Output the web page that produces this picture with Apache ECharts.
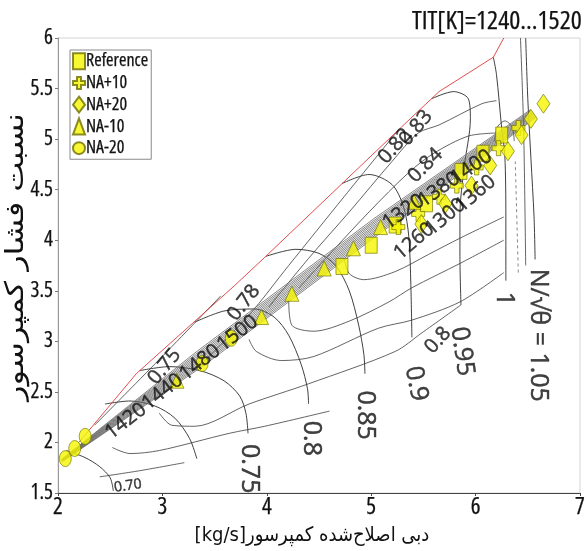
<!DOCTYPE html>
<html>
<head>
<meta charset="utf-8">
<script src="https://cdn.jsdelivr.net/npm/echarts@6/dist/echarts.min.js"></script>
<style>
  html, body { margin: 0; padding: 0; background: #fff; }
  #chart { width: 588px; height: 551px; }
</style>
</head>
<body>
<div id="chart"></div>
<script>
// ---- axis ticks ----
const xTicks = [2, 3, 4, 5, 6, 7];
const yTicks = [1.5, 2, 2.5, 3, 3.5, 4, 4.5, 5, 5.5, 6];

// ---- surge line [mass flow, pressure ratio] ----
const surgeLine = [[2.2,2.0],[2.75,2.68],[3.69,3.55],[3.99,3.84],[5.26,5.09],[5.65,5.47],[6.17,5.81],[6.27,6.0]];

// ---- corrected speed lines ----
const speed070 = [[2.08,1.92],[2.26,1.85],[2.40,1.76],[2.50,1.65],[2.53,1.52]];
const speed072 = [[2.45,2.38],[2.69,2.41],[2.93,2.36],[3.12,2.24],[3.26,2.04],[3.33,1.84]];
const speed075 = [[2.78,2.71],[3.07,2.75],[3.36,2.71],[3.59,2.61],[3.74,2.46],[3.80,2.29],[3.82,2.09]];
const speed080 = [[3.31,3.19],[3.59,3.30],[3.88,3.32],[4.07,3.24],[4.21,3.06],[4.33,2.77],[4.39,2.53],[4.40,2.38]];
const speed085 = [[3.99,3.84],[4.28,3.91],[4.50,3.87],[4.66,3.75],[4.79,3.50],[4.88,3.16],[4.93,2.87],[4.94,2.68]];
const speed090 = [[4.72,4.56],[4.98,4.65],[5.20,4.55],[5.31,4.33],[5.36,4.04],[5.38,3.55],[5.39,3.04]];
const speed095 = [[5.58,5.40],[5.79,5.47],[5.93,5.40],[5.95,5.20],[5.89,4.72],[5.85,4.26],[5.85,3.84],[5.86,3.36]];
const speed100 = [[6.17,5.81],[6.20,5.64],[6.25,5.11],[6.28,4.84],[6.29,4.23],[6.29,3.60]];
const speed105 = [[6.48,6.00],[6.50,5.40],[6.53,4.81],[6.56,4.23],[6.57,3.81]];

// ---- efficiency contours ----
const effUpper075 = [[2.35,2.17],[2.97,2.82],[3.56,3.45]];
const effUpper078 = [[3.35,2.75],[3.83,3.26],[4.21,3.75],[4.74,4.43],[5.26,5.09]];
const effUpper083 = [[4.02,3.34],[4.40,3.82],[4.79,4.28],[5.20,4.78],[5.45,5.06],[5.65,5.14],[6.06,5.35],[6.20,5.38]];
const effUpper084 = [[4.31,3.53],[4.60,3.86],[4.98,4.28],[5.36,4.67],[5.60,4.86],[5.93,5.03],[6.19,5.06]];
const effLower1 = [[4.74,3.82],[4.79,3.67],[4.93,3.61],[5.23,3.69],[5.55,3.86],[5.85,4.02],[6.27,4.23]];
const effLower2 = [[4.21,3.40],[4.24,3.16],[4.45,3.10],[4.79,3.20],[5.17,3.39],[5.39,3.53],[5.85,3.77],[6.27,4.00]];
const effLower3 = [[3.83,3.02],[3.90,2.90],[4.14,2.81],[4.45,2.85],[5.07,3.13],[5.39,3.21],[5.85,3.39],[6.27,3.68]];
const effLower4 = [[2.97,2.29],[3.09,2.17],[3.31,2.16],[3.83,2.38],[4.40,2.58],[5.23,2.90],[5.48,3.08],[5.86,3.36]];
const effLower5 = [[2.52,1.95],[2.69,1.89],[2.97,1.92],[3.64,2.09],[3.98,2.16],[4.60,2.31]];
const effLower6 = [[2.40,1.66],[2.78,1.72],[3.21,1.80]];
const effRight = [[6.43,6.0],[6.46,5.11],[6.48,3.75]];
const effRightDashed = [[6.38,4.78],[6.41,3.65]];
const effIsland = [[6.18,4.98],[6.21,5.12],[6.28,5.18],[6.35,5.12],[6.37,4.98]];

// ---- operating lines, TIT = 1240 ... 1520 K ----
const opLine01 = [[2.032,1.830],[3.310,2.884],[5.028,4.215],[6.525,5.290]];
const opLine02 = [[2.033,1.828],[3.318,2.872],[5.037,4.203],[6.530,5.282]];
const opLine03 = [[2.034,1.827],[3.326,2.861],[5.044,4.192],[6.535,5.274]];
const opLine04 = [[2.035,1.825],[3.334,2.850],[5.052,4.181],[6.540,5.268]];
const opLine05 = [[2.036,1.824],[3.342,2.839],[5.061,4.170],[6.545,5.261]];
const opLine06 = [[2.037,1.822],[3.350,2.828],[5.068,4.159],[6.549,5.255]];
const opLine07 = [[2.038,1.821],[3.358,2.817],[5.076,4.148],[6.554,5.249]];
const opLine08 = [[2.039,1.820],[3.366,2.806],[5.084,4.137],[6.559,5.242]];
const opLine09 = [[2.041,1.817],[3.374,2.795],[5.092,4.126],[6.564,5.235]];
const opLine10 = [[2.042,1.815],[3.382,2.784],[5.100,4.115],[6.569,5.228]];
const opLine11 = [[2.043,1.814],[3.390,2.773],[5.108,4.104],[6.574,5.221]];
const opLine12 = [[2.044,1.813],[3.398,2.762],[5.116,4.093],[6.579,5.214]];

// ---- operating points per case ----
const reference = [[4.72,3.74],[5.00,3.95],[5.23,4.15],[5.53,4.36],[5.86,4.68],[6.07,4.86],[6.25,5.04]];
const naPlus10 = [[5.26,4.13],[5.45,4.26],[5.65,4.43],[5.82,4.54],[6.01,4.72],[6.22,4.91],[6.41,5.11]];
const naPlus20 = [[5.48,4.16],[5.71,4.36],[5.96,4.54],[6.14,4.74],[6.31,4.88],[6.44,5.04],[6.53,5.20],[6.65,5.35]];
const naMinus10 = [[3.14,2.61],[3.95,3.24],[4.24,3.47],[4.55,3.72],[4.83,3.92],[5.09,4.13],[5.41,4.38]];
const naMinus20 = [[2.07,1.84],[2.16,1.94],[2.26,2.06],[3.38,2.78],[3.66,3.03]];

// ---- annotations ----
const speedLabels = ['0.75', '0.8', '0.85', '0.9', '0.95', '1', 'N/√θ = 1.05'];
const speedLabelAt = [[3.83,1.74],[4.42,2.04],[4.94,2.27],[5.43,2.58],[5.87,2.90],[6.27,3.42],[6.60,3.06]];
const effLabels = ['0.75', '0.78', '0.82', '0.83', '0.84', '0.8', '0.70'];
const effLabelAt = [[3.02,2.75],[3.78,3.38],[5.23,4.93],[5.43,5.11],[5.52,4.74],[5.64,3.01],[2.67,1.57]];
const titLabels = ['1420', '1440', '1480', '1500', '1320', '1380', '1400', '1260', '1300', '1360'];
const titLabelAt = [[2.65,2.21],[3.00,2.50],[3.36,2.79],[3.72,3.08],[5.31,4.28],[5.65,4.50],[5.96,4.72],[5.41,3.99],[5.71,4.23],[6.00,4.46]];

const xAxisTitle = '[kg/s]دبی اصلاح‌شده کمپرسور';
const yAxisTitle = 'نسبت فشار کمپرسور';

// ---- styling ----
const OPEN = "'Open Sans', 'DejaVu Sans', sans-serif";
const COND_W = 'condensed';
const INK = '#111';
const heavy = { textBorderColor: INK, textBorderWidth: 0.45 };
const medium = { textBorderColor: INK, textBorderWidth: 0.25 };
const speedRot = [-90, -90, -90, -78, -82, -90, -90];
const effRot = [51, 52, 48, 50, 45, 48, 8];
const effSize = [20, 20, 20, 20, 20, 20, 14];
const titRot = [38, 38, 38, 38, 35, 35, 35, 40, 40, 40];

function curve(data, color, width, extra) {
  return Object.assign({
    type: 'line', data: data, symbol: 'none', smooth: 0.3, silent: true,
    lineStyle: { color: color, width: width }, z: 2, clip: true
  }, extra || {});
}

function labelSeries(texts, pos, rot, sizes) {
  return {
    type: 'scatter', silent: true, symbolSize: 1, z: 10,
    itemStyle: { color: 'rgba(0,0,0,0)' },
    data: texts.map((t, i) => ({
      value: pos[i],
      label: Object.assign({
        show: true, position: 'inside', formatter: t, rotate: rot[i],
        fontSize: Array.isArray(sizes) ? sizes[i] : sizes,
        fontFamily: OPEN, color: INK
      }, heavy)
    }))
  };
}

const markerStyle = { color: '#f5f500', borderColor: '#6e6e00', borderWidth: 0.8 };
const crossPath = 'path://M4,0H8V4H12V8H8V12H4V8H0V4H4Z';

const speedCurves = [speed070, speed072, speed075, speed080, speed085, speed090, speed095, speed100, speed105];
const effCurves = [effUpper075, effUpper078, effUpper083, effUpper084, effLower1, effLower2, effLower3, effLower4, effLower5, effLower6, effRight, effIsland];
const opLines = [opLine01, opLine02, opLine03, opLine04, opLine05, opLine06, opLine07, opLine08, opLine09, opLine10, opLine11, opLine12];

const series = [];
speedCurves.forEach(d => series.push(curve(d, '#2a2a2a', 0.9)));
effCurves.forEach(d => series.push(curve(d, '#3c3c3c', 0.8)));
series.push(curve(effRightDashed, '#666', 0.8, { lineStyle: { color: '#666', width: 0.8, type: [3, 3] } }));
series.push(curve(surgeLine, '#e03a3a', 0.9, { smooth: false, z: 3 }));
opLines.forEach(d => series.push(curve(d, '#666666', 0.8, { smooth: false, z: 4 })));

series.push({ name: 'Reference', type: 'scatter', data: reference, symbol: 'rect', symbolSize: [12, 16], itemStyle: markerStyle, z: 6 });
series.push({ name: 'NA+10', type: 'scatter', data: naPlus10, symbol: crossPath, symbolSize: [13, 15], itemStyle: markerStyle, z: 6 });
series.push({ name: 'NA+20', type: 'scatter', data: naPlus20, symbol: 'diamond', symbolSize: [13, 19], itemStyle: markerStyle, z: 6 });
series.push({ name: 'NA-10', type: 'scatter', data: naMinus10, symbol: 'triangle', symbolSize: [14, 15], itemStyle: markerStyle, z: 6 });
series.push({ name: 'NA-20', type: 'scatter', data: naMinus20, symbol: 'circle', symbolSize: [12, 16], itemStyle: markerStyle, z: 6 });

series.push(labelSeries(speedLabels, speedLabelAt, speedRot, 25));
series.push(labelSeries(effLabels, effLabelAt, effRot, effSize));
series.push(labelSeries(titLabels, titLabelAt, titRot, 20));

const chart = echarts.init(document.getElementById('chart'), null, { renderer: 'canvas' });
chart.setOption({
  animation: false,
  backgroundColor: '#ffffff',
  title: {
    text: 'TIT[K]=1240...1520', right: 1, top: 4,
    textStyle: Object.assign({ fontFamily: OPEN, fontSize: 26, fontWeight: COND_W, color: INK }, medium)
  },
  graphic: [{
    type: 'text', x: 16, y: 257, rotation: Math.PI / 2, scaleY: 0.8, silent: true,
    style: {
      text: yAxisTitle, font: '32px "DejaVu Sans"', fill: INK,
      align: 'center', verticalAlign: 'middle', textAlign: 'center', textVerticalAlign: 'middle'
    }
  }],
  legend: {
    data: ['Reference', 'NA+10', 'NA+20', 'NA-10', 'NA-20'],
    orient: 'vertical', left: 70, top: 50,
    backgroundColor: '#fff', borderColor: '#8a8a8a', borderWidth: 1,
    padding: [2, 3, 2, 2], itemGap: 3.5, itemWidth: 12, itemHeight: 16,
    textStyle: Object.assign({ fontFamily: OPEN, fontWeight: COND_W, fontSize: 18, color: INK, padding: [0, 0, 0, -4] }, medium)
  },
  grid: { left: 58, right: 5, top: 38, bottom: 50, show: true, borderColor: '#d4d4d4', borderWidth: 1 },
  xAxis: {
    type: 'value', min: xTicks[0], max: xTicks[xTicks.length - 1], interval: 1,
    name: xAxisTitle, nameLocation: 'middle', nameGap: 33,
    nameTextStyle: { fontFamily: "'DejaVu Sans'", fontWeight: 'condensed', fontSize: 20, color: INK, padding: [0, 14, 0, 0] },
    axisLine: { lineStyle: { color: '#444', width: 1 } },
    axisTick: { show: true, length: 3, lineStyle: { color: '#444' } },
    axisLabel: Object.assign({ fontFamily: OPEN, fontWeight: COND_W, fontSize: 23, color: INK, margin: 3 }, medium),
    splitLine: { show: false }
  },
  yAxis: {
    type: 'value', min: yTicks[0], max: yTicks[yTicks.length - 1], interval: 0.5,
    axisLine: { show: true, lineStyle: { color: '#9a9a9a', width: 1 } },
    axisTick: { show: true, length: 3, lineStyle: { color: '#777' } },
    axisLabel: Object.assign({ fontFamily: OPEN, fontWeight: COND_W, fontSize: 21, color: INK, margin: 5, formatter: v => String(v) }, medium),
    splitLine: { show: false }
  },
  series: series
});
</script>
</body>
</html>
